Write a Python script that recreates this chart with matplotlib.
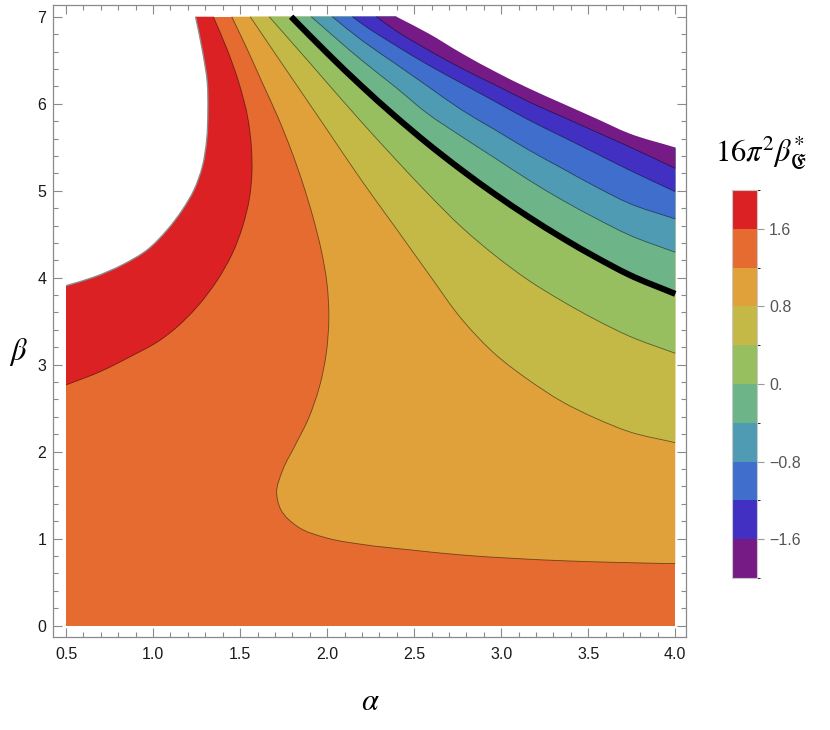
import numpy as np
import matplotlib.pyplot as plt
from matplotlib.colors import ListedColormap, BoundaryNorm
from matplotlib.cm import ScalarMappable
from matplotlib.ticker import MultipleLocator, FixedLocator
from matplotlib.path import Path
from matplotlib.patches import PathPatch

plt.rcParams['font.family'] = ['Liberation Sans', 'DejaVu Sans']
plt.rcParams['mathtext.fontset'] = 'stix'

# contour levels and band colours (bottom to top of the colour bar)
levels = [-2.0, -1.6, -1.2, -0.8, -0.4, 0.0, 0.4, 0.8, 1.2, 1.6, 2.0]
band_colors = ['#761b86', '#4230c2', '#3f6ecd', '#4f9bb3', '#6eb489',
               '#97be5f', '#c4b947', '#e0a03a', '#e56b30', '#db2123']
cbar_ticks = [-1.6, -0.8, 0.0, 0.8, 1.6]
cbar_labels = ['\u22121.6', '\u22120.8', '0.', '0.8', '1.6']

# contour lines (alpha, beta)
alpha_p20 = [1.244, 1.283, 1.312, 1.315, 1.308, 1.283, 1.235, 1.168, 1.081, 0.966, 0.831, 0.658, 0.5]
beta_p20 = [7.0, 6.617, 6.234, 5.928, 5.583, 5.276, 5.008, 4.778, 4.549, 4.319, 4.155, 4.005, 3.908]

alpha_p16 = [1.346, 1.427, 1.494, 1.543, 1.566, 1.568, 1.552, 1.514, 1.456, 1.37, 1.254,
             1.129, 1.042, 0.869, 0.696, 0.5]
beta_p16 = [7.0, 6.617, 6.234, 5.851, 5.468, 5.2, 4.893, 4.586, 4.28, 3.974, 3.667,
            3.418, 3.284, 3.092, 2.92, 2.767]

alpha_p12 = [1.452, 1.543, 1.629, 1.716, 1.793, 1.86, 1.918, 1.966, 1.999, 2.01, 1.995, 1.956, 1.889,
             1.812, 1.745, 1.71, 1.735, 1.831, 2.004, 2.2, 2.485, 2.773, 3.062, 3.35, 3.639, 4.0]
beta_p12 = [7.0, 6.617, 6.234, 5.851, 5.468, 5.085, 4.701, 4.318, 3.936, 3.552, 3.131, 2.747, 2.364,
            2.057, 1.79, 1.522, 1.33, 1.138, 1.005, 0.935, 0.87, 0.813, 0.775, 0.747, 0.729, 0.713]

alpha_p08 = [1.558, 1.7, 1.85, 2.0, 2.196, 2.389, 2.581, 2.783, 2.966, 3.158, 3.35, 3.543, 3.735, 4.0]
beta_p08 = [7.0, 6.58, 6.14, 5.70, 5.123, 4.586, 4.05, 3.5, 3.12, 2.824, 2.575, 2.384, 2.23, 2.104]

alpha_p04 = [1.667, 1.9, 2.196, 2.389, 2.581, 2.773, 2.966, 3.158, 3.35, 3.543, 3.735, 4.0]
beta_p04 = [7.0, 6.47, 5.793, 5.37, 4.962, 4.58, 4.253, 3.969, 3.731, 3.517, 3.329, 3.131]

alpha_00 = [1.793, 2.0, 2.196, 2.389, 2.581, 2.773, 2.966, 3.158, 3.35, 3.543, 3.735, 4.0]
beta_00 = [7.0, 6.582, 6.206, 5.859, 5.536, 5.237, 4.957, 4.698, 4.458, 4.236, 4.034, 3.814]

alpha_m04 = [1.908, 2.196, 2.389, 2.581, 2.773, 2.966, 3.158, 3.35, 3.543, 3.735, 4.0]
beta_m04 = [7.0, 6.503, 6.196, 5.88, 5.622, 5.372, 5.123, 4.893, 4.683, 4.491, 4.292]

alpha_m08 = [2.029, 2.196, 2.389, 2.581, 2.773, 2.966, 3.158, 3.35, 3.543, 3.735, 4.0]
beta_m08 = [7.0, 6.733, 6.464, 6.196, 5.928, 5.698, 5.468, 5.257, 5.046, 4.855, 4.675]

alpha_m12 = [2.145, 2.196, 2.389, 2.581, 2.773, 2.966, 3.158, 3.35, 3.543, 3.735, 4.0]
beta_m12 = [7.0, 6.924, 6.675, 6.445, 6.234, 6.023, 5.813, 5.622, 5.43, 5.238, 4.989]

alpha_m16 = [2.283, 2.389, 2.581, 2.773, 2.966, 3.158, 3.35, 3.543, 3.735, 4.0]
beta_m16 = [7.0, 6.847, 6.617, 6.406, 6.215, 6.023, 5.851, 5.678, 5.506, 5.257]

alpha_m20 = [2.398, 2.581, 2.773, 2.966, 3.158, 3.35, 3.543, 3.735, 4.0]
beta_m20 = [7.0, 6.809, 6.579, 6.368, 6.177, 6.004, 5.832, 5.659, 5.497]

a_min, a_max, b_min, b_max = 0.5, 4.0, 0.0, 7.0


def curve(a, b, tail=()):
    # smooth cubic path through the read points, optionally closed via tail corners
    p = np.column_stack([a, b]).astype(float)
    t = np.r_[0, np.cumsum(np.hypot(2.0 * np.diff(p[:, 0]), np.diff(p[:, 1])))]
    m = np.gradient(p, t, axis=0)
    verts, codes = [p[0]], [Path.MOVETO]
    for i in range(len(p) - 1):
        h = t[i + 1] - t[i]
        verts += [p[i] + m[i] * h / 3, p[i + 1] - m[i + 1] * h / 3, p[i + 1]]
        codes += [Path.CURVE4] * 3
    if tail:
        for q in tail:
            verts.append(q)
            codes.append(Path.LINETO)
        verts.append(p[0])
        codes.append(Path.CLOSEPOLY)
    return Path(verts, codes)


W, H = 830, 730
fig = plt.figure(figsize=(W / 100, H / 100), dpi=100)
ax = fig.add_axes([53.3 / W, 1 - 637 / H, (686 - 53.3) / W, (637 - 4.7) / H])

# base band 1.2..1.6 over the whole domain
ax.fill([a_min, a_max, a_max, a_min], [b_min, b_min, b_max, b_max], color=band_colors[8], lw=0)

# upper-left regions (values above the contour)
ax.add_patch(PathPatch(curve(alpha_p16, beta_p16, [(a_min, b_max)]), fc=band_colors[9], lw=0))
ax.add_patch(PathPatch(curve(alpha_p20, beta_p20,
                             [(0.3, beta_p20[-1]), (0.3, 7.3), (alpha_p20[0], 7.3)]),
                       fc='white', lw=0))

# upper-right regions (values below the contour), painted in order
right_side = [
    (alpha_p12, beta_p12, band_colors[7]),
    (alpha_p08, beta_p08, band_colors[6]),
    (alpha_p04, beta_p04, band_colors[5]),
    (alpha_00, beta_00, band_colors[4]),
    (alpha_m04, beta_m04, band_colors[3]),
    (alpha_m08, beta_m08, band_colors[2]),
    (alpha_m12, beta_m12, band_colors[1]),
    (alpha_m16, beta_m16, band_colors[0]),
]
for a, b, col in right_side:
    ax.add_patch(PathPatch(curve(a, b, [(a_max, b_max)]), fc=col, lw=0))
ax.add_patch(PathPatch(curve(alpha_m20, beta_m20,
                             [(4.3, beta_m20[-1]), (4.3, 7.3), (alpha_m20[0], 7.3)]),
                       fc='white', lw=0))

# contour lines
thin = [(alpha_p16, beta_p16), (alpha_p12, beta_p12), (alpha_p08, beta_p08), (alpha_p04, beta_p04),
        (alpha_m04, beta_m04), (alpha_m08, beta_m08), (alpha_m12, beta_m12), (alpha_m16, beta_m16)]
for a, b in thin:
    ax.add_patch(PathPatch(curve(a, b), fill=False, ec=(0, 0, 0, 0.5), lw=0.6))
ax.add_patch(PathPatch(curve(alpha_p20, beta_p20), fill=False, ec='#8c8c8c', lw=1.0))
ax.add_patch(PathPatch(curve(alpha_00, beta_00), fill=False, ec='black', lw=4.4, capstyle='butt'))

ax.set_xlim(0.4267, 4.0617)
ax.set_ylim(-0.13, 7.138)
ax.xaxis.set_major_locator(FixedLocator([0.5, 1.0, 1.5, 2.0, 2.5, 3.0, 3.5, 4.0]))
ax.xaxis.set_minor_locator(MultipleLocator(0.1))
ax.set_xticklabels(['0.5', '1.0', '1.5', '2.0', '2.5', '3.0', '3.5', '4.0'])
ax.yaxis.set_major_locator(MultipleLocator(1))
ax.yaxis.set_minor_locator(MultipleLocator(0.2))
ax.tick_params(which='both', direction='in', top=True, right=True, color='#8a8a8a', width=0.8)
ax.tick_params(which='major', length=6.5, labelsize=11.5, labelcolor='#1a1a1a')
ax.tick_params(which='minor', length=3.5)
ax.tick_params(axis='x', which='major', pad=7)
ax.tick_params(axis='y', which='major', pad=5)
for s in ax.spines.values():
    s.set_color('#8a8a8a')
    s.set_linewidth(0.9)

fig.text(370 / W, 1 - 702 / H, r'$\alpha$', fontsize=22, ha='center', va='center')
fig.text(18 / W, 1 - 352 / H, r'$\beta$', fontsize=22, ha='center', va='center')

# colour bar
cax = fig.add_axes([731.7 / W, 1 - 578 / H, 25.6 / W, 388 / H])
cmap = ListedColormap(band_colors)
norm = BoundaryNorm(levels, cmap.N)
cb = fig.colorbar(ScalarMappable(norm=norm, cmap=cmap), cax=cax, ticks=cbar_ticks)
cb.set_ticklabels(cbar_labels)
cb.outline.set_edgecolor('#c8c8c8')
cb.outline.set_linewidth(0.8)
cax.tick_params(direction='out', length=5, width=0.8, color='#999999',
                labelsize=11.5, labelcolor='#555555', pad=3.5)
fig.text(715 / W, 1 - 161.7 / H, r'$16\pi^2\beta^{*}_{\mathfrak{E}}$', fontsize=22,
         ha='left', va='baseline')

fig.savefig('out.png', dpi=100)
